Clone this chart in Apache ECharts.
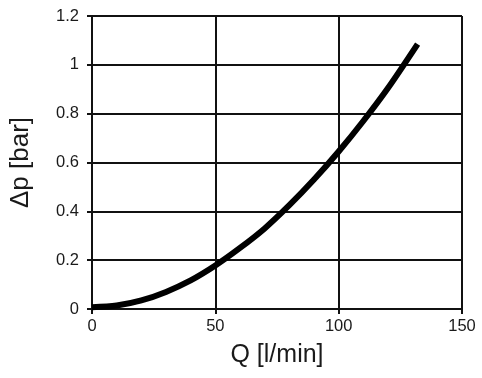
<!DOCTYPE html>
<html>
<head>
<meta charset="utf-8">
<script src="https://cdn.jsdelivr.net/npm/echarts@6/dist/echarts.min.js"></script>
<style>html,body{margin:0;padding:0;background:#fff}#c{width:482px;height:378px}</style>
</head>
<body>
<div id="c"></div>
<script>
var flowQ = [0, 10, 20, 30, 40, 50, 60, 70, 80, 90, 100, 110, 120, 132];
var deltaP = [0.007, 0.014, 0.035, 0.07, 0.117, 0.178, 0.25, 0.33, 0.425, 0.53, 0.645, 0.77, 0.905, 1.085];
var xTicks = [0, 50, 100, 150];
var yTicks = [0, 0.2, 0.4, 0.6, 0.8, 1, 1.2];
var xName = 'Q [l/min]';
var yName = '\u0394p [bar]';

var pts = flowQ.map(function (q, i) { return [q, deltaP[i]]; });
var font = 'Liberation Sans, Arial, sans-serif';
var chart = echarts.init(document.getElementById('c'), null, {renderer: 'canvas'});
chart.setOption({
  animation: false,
  backgroundColor: '#fff',
  grid: {left: 91, right: 20, top: 16, bottom: 69, containLabel: false},
  xAxis: {
    type: 'value', min: xTicks[0], max: xTicks[xTicks.length - 1], interval: 50,
    name: xName, nameLocation: 'middle', nameGap: 34,
    nameTextStyle: {fontFamily: font, fontSize: 25, color: '#1a1a1a'},
    axisLine: {show: true, lineStyle: {color: '#111', width: 2}},
    axisTick: {show: true, length: 5, lineStyle: {color: '#111', width: 2}},
    axisLabel: {fontFamily: font, fontSize: 16.5, color: '#1a1a1a', margin: 9},
    splitLine: {show: true, lineStyle: {color: '#111', width: 2}}
  },
  yAxis: {
    type: 'value', min: yTicks[0], max: yTicks[yTicks.length - 1], interval: 0.2,
    name: yName, nameLocation: 'middle', nameGap: 58, nameRotate: 90,
    nameTextStyle: {fontFamily: font, fontSize: 26, color: '#1a1a1a'},
    axisLine: {show: true, lineStyle: {color: '#111', width: 2}},
    axisTick: {show: true, length: 5, lineStyle: {color: '#111', width: 2}},
    axisLabel: {fontFamily: font, fontSize: 16.5, color: '#1a1a1a', margin: 13,
      formatter: function (v) { return String(Math.round(v * 10) / 10); }},
    splitLine: {show: true, lineStyle: {color: '#111', width: 2}}
  },
  series: [{
    type: 'line', data: pts, smooth: 0.3, symbol: 'none',
    lineStyle: {color: '#000', width: 6, cap: 'butt'}
  }]
});
</script>
</body>
</html>
